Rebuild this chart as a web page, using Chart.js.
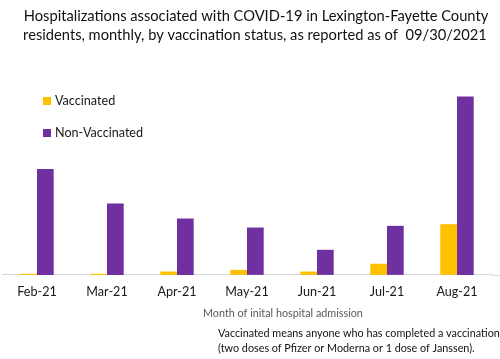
<!DOCTYPE html>
<html><head><meta charset="utf-8">
<script src="https://cdn.jsdelivr.net/npm/chart.js@4/dist/chart.umd.min.js"></script>
<style>html,body{margin:0;padding:0;background:#fff}#wrap{width:500px;height:359px;position:relative}</style>
</head><body><div id="wrap"><canvas id="c" width="500" height="359"></canvas></div>
<script>
const categories = ["Feb-21","Mar-21","Apr-21","May-21","Jun-21","Jul-21","Aug-21"];
const vaccinated = [1, 1, 3, 4.5, 3, 10, 45.5];
const nonVaccinated = [95, 64, 50.5, 42.5, 22.5, 44, 160];
const titleLines = ["Hospitalizations associated with COVID-19 in Lexington-Fayette County","residents, monthly, by vaccination status, as reported as of  09/30/2021"];
const axisTitle = "Month of inital hospital admission";
const noteLines = ["Vaccinated means anyone who has completed a vaccination","(two doses of Pfizer or Moderna or 1 dose of Janssen)."];
const FONT = "Lato, 'Open Sans', sans-serif";

const textPlugin = {
  id: 'texts',
  afterDraw(chart) {
    const ctx = chart.ctx, ca = chart.chartArea;
    ctx.save();
    ctx.strokeStyle = '#d9d9d9'; ctx.lineWidth = 1;
    ctx.beginPath(); ctx.moveTo(ca.right, ca.bottom + 0.5); ctx.lineTo(chart.width, ca.bottom + 0.5); ctx.stroke();
    ctx.fillStyle = '#111'; ctx.textAlign = 'center'; ctx.textBaseline = 'middle';
    ctx.font = "14.7px " + FONT;
    ctx.fillText(titleLines[0], 256, 16);
    ctx.fillText(titleLines[1], 255, 35);
    ctx.textAlign = 'left';
    ctx.font = "12.6px " + FONT;
    const ys = [101, 133];
    chart.data.datasets.forEach((ds, i) => {
      ctx.fillStyle = ds.backgroundColor;
      ctx.fillRect(43, ys[i] - 4, 8, 8);
      ctx.fillStyle = '#1a1a1a';
      ctx.fillText(ds.label, 55, ys[i]);
    });
    ctx.fillStyle = '#595959'; ctx.font = "10.8px " + FONT;
    ctx.fillText(axisTitle, 203, 314);
    ctx.fillStyle = '#111'; ctx.font = "10.8px " + FONT;
    ctx.fillText(noteLines[0], 218, 334);
    ctx.fillText(noteLines[1], 218, 349);
    ctx.restore();
  }
};

new Chart(document.getElementById('c'), {
  type: 'bar',
  data: {
    labels: categories,
    datasets: [
      {label: 'Vaccinated', data: vaccinated, backgroundColor: '#FFC000'},
      {label: 'Non-Vaccinated', data: nonVaccinated, backgroundColor: '#7030A0'}
    ]
  },
  options: {
    responsive: false, animation: false,
    layout: {padding: {left: 2, right: 8, top: 52, bottom: 51}},
    categoryPercentage: 0.477, barPercentage: 1,
    plugins: {legend: {display: false}, title: {display: false}, tooltip: {enabled: false}},
    scales: {
      x: {
        grid: {display: false, drawTicks: false},
        border: {display: true, color: '#d9d9d9', width: 1},
        ticks: {color: '#1a1a1a', font: {family: FONT, size: 12.6}, padding: 9, maxRotation: 0}
      },
      y: {display: false, min: 0, max: 200}
    }
  },
  plugins: [textPlugin]
});
</script></body></html>
